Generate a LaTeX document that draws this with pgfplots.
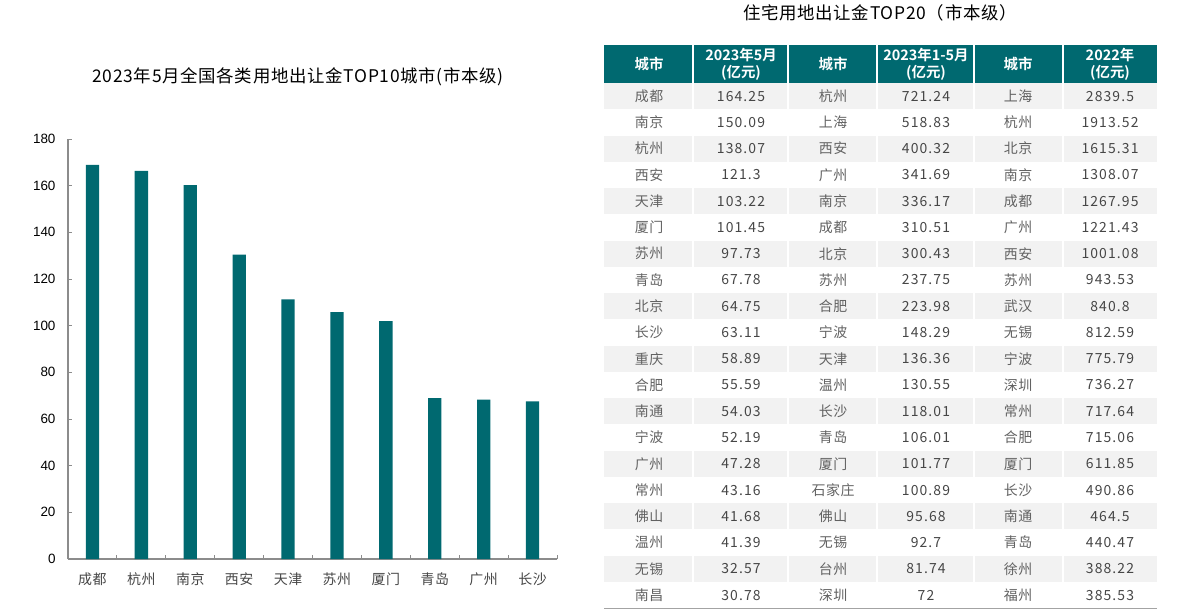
\documentclass[border=0pt]{standalone}
\usepackage{fontspec}
\setmainfont{Noto Sans CJK SC}[BoldFont={Noto Sans CJK SC Bold}]
\newfontfamily\latinfont{Liberation Sans}
\newfontfamily\widefont{Noto Sans CJK SC}[LetterSpace=4]
\newfontfamily\numfont{Noto Sans CJK SC}[LetterSpace=8]
\usepackage{pgfplots}
\pgfplotsset{compat=1.18}
\definecolor{teal1}{RGB}{0,105,112}
\definecolor{axgray}{RGB}{140,140,140}
\definecolor{rowgray}{RGB}{242,242,242}
\definecolor{txtgray}{RGB}{70,70,70}
\begin{document}
\begin{tikzpicture}[x=1bp,y=1bp]
\useasboundingbox (0,0) rectangle (1178,-612);

% left chart
\node[font=\fontsize{17.5}{19}\widefont] at (298,-77) {2023年5月全国各类用地出让金TOP10城市(市本级)};
\begin{axis}[at={(68bp,-559bp)}, anchor=south west,
  scale only axis, width=489bp, height=420bp,
  xmin=-0.5, xmax=9.5, ymin=0, ymax=180,
  axis x line*=bottom, axis y line*=left,
  axis line style={axgray, line width=1.2bp, -},
  ytick={0,20,...,180},
  xtick={0,...,9},
  xticklabels={成都,杭州,南京,西安,天津,苏州,厦门,青岛,广州,长沙},
  minor xtick={-0.5,0.5,...,9.5},
  major x tick style={draw=none},
  minor x tick style={axgray, line width=1bp},
  y tick style={axgray, line width=1bp},
  tick align=inside, major tick length=4bp, minor tick length=4bp,
  /pgf/number format/assume math mode=true,
  yticklabel style={font=\fontsize{13.5}{15}\latinfont, text=black, xshift=-9bp},
  xticklabel style={font=\fontsize{14}{16}\widefont, text=txtgray, anchor=center, yshift=-20bp},
]
\addplot[ybar, bar width=13.3bp, bar shift=0pt, fill=teal1, draw=none] coordinates {
  (0,168.9) (1,166.3) (2,160.2) (3,130.5) (4,111.3)
  (5,105.8) (6,102.0) (7,69.0) (8,68.3) (9,67.6)
};
\end{axis}

% right table
\node[font=\fontsize{17.5}{19}\widefont] at (880,-13) {住宅用地出让金TOP20（市本级）};
\fill[teal1] (604,-45) rectangle (1157,-83);
\foreach \r in {1,3,...,19}{
  \pgfmathsetmacro{\ya}{-(83+(\r-1)*26.26)}
  \pgfmathsetmacro{\yb}{-(83+\r*26.26)}
  \fill[rowgray] (604,\ya) rectangle (1157,\yb);
}
\foreach \xx in {693,788,877,974,1063}{
  \draw[white, line width=1.5bp] (\xx,-45) -- (\xx,-608);
}
\draw[axgray!80, line width=1.5bp] (604,-608.5) -- (1157,-608.5);
\begin{scope}[every node/.style={font=\bfseries\fontsize{14.5}{17}\selectfont, text=white, align=center}]
  \node at (649,-64) {城市};
  \node at (741,-64) {2023年5月\\(亿元)};
  \node at (833,-64) {城市};
  \node at (926,-64) {2023年1-5月\\(亿元)};
  \node at (1018,-64) {城市};
  \node at (1110,-64) {2022年\\(亿元)};
\end{scope}
\foreach \a/\b/\c/\d/\e/\f [count=\r] in {
  成都/164.25/杭州/721.24/上海/2839.5,
  南京/150.09/上海/518.83/杭州/1913.52,
  杭州/138.07/西安/400.32/北京/1615.31,
  西安/121.3/广州/341.69/南京/1308.07,
  天津/103.22/南京/336.17/成都/1267.95,
  厦门/101.45/成都/310.51/广州/1221.43,
  苏州/97.73/北京/300.43/西安/1001.08,
  青岛/67.78/苏州/237.75/苏州/943.53,
  北京/64.75/合肥/223.98/武汉/840.8,
  长沙/63.11/宁波/148.29/无锡/812.59,
  重庆/58.89/天津/136.36/宁波/775.79,
  合肥/55.59/温州/130.55/深圳/736.27,
  南通/54.03/长沙/118.01/常州/717.64,
  宁波/52.19/青岛/106.01/合肥/715.06,
  广州/47.28/厦门/101.77/厦门/611.85,
  常州/43.16/石家庄/100.89/长沙/490.86,
  佛山/41.68/佛山/95.68/南通/464.5,
  温州/41.39/无锡/92.7/青岛/440.47,
  无锡/32.57/台州/81.74/徐州/388.22,
  南昌/30.78/深圳/72/福州/385.53}{
  \pgfmathsetmacro{\yy}{-(96.13+(\r-1)*26.26)}
  \begin{scope}[every node/.style={font=\fontsize{14}{16}\widefont}]
    \node[text=txtgray!85] at (649,\yy) {\a};
    \node[text=txtgray, font=\fontsize{14}{16}\numfont] at (741,\yy) {\b};
    \node[text=txtgray!85] at (833,\yy) {\c};
    \node[text=txtgray, font=\fontsize{14}{16}\numfont] at (926,\yy) {\d};
    \node[text=txtgray!85] at (1018,\yy) {\e};
    \node[text=txtgray, font=\fontsize{14}{16}\numfont] at (1110,\yy) {\f};
  \end{scope}
}
\end{tikzpicture}
\end{document}
